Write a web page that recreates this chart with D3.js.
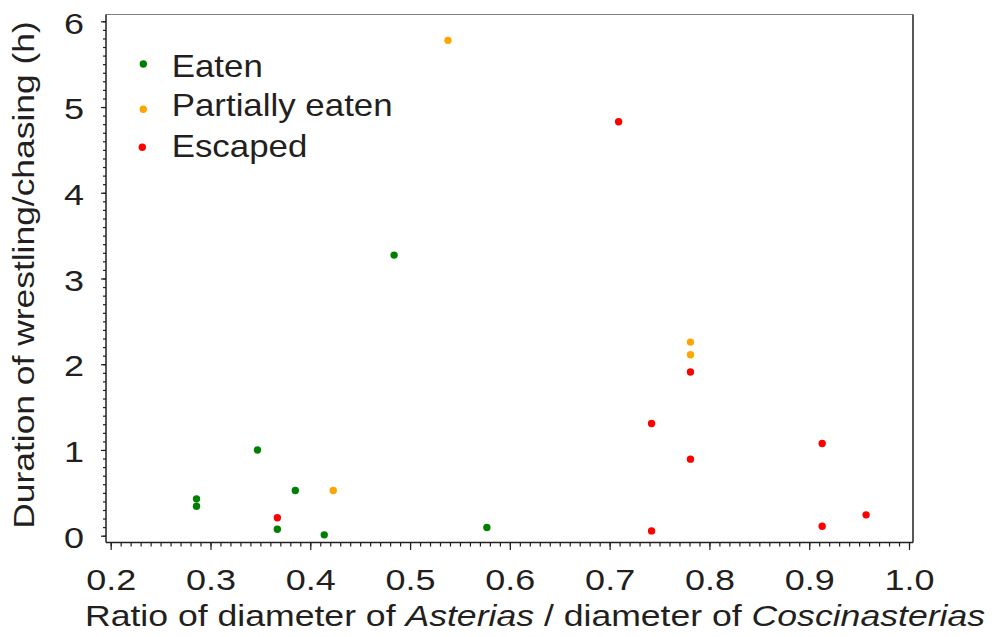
<!DOCTYPE html>
<html><head><meta charset="utf-8">
<script src="https://cdn.jsdelivr.net/npm/d3@7"></script>
<style>
html,body{margin:0;padding:0;background:#fff;}
text{font-family:"Liberation Sans",Arial,sans-serif;fill:#231f20;}
</style></head>
<body>
<svg id="chart" width="992" height="637"></svg>
<script>
// Data (ratio, duration in h)
const eatenX = [0.286, 0.286, 0.347, 0.367, 0.385, 0.414, 0.484, 0.577];
const eatenY = [0.43, 0.344, 1.0, 0.076, 0.527, 0.01, 3.273, 0.096];
const partialX = [0.423, 0.538, 0.781, 0.781];
const partialY = [0.527, 5.778, 2.258, 2.11];
const escapedX = [0.367, 0.709, 0.742, 0.742, 0.781, 0.781, 0.913, 0.913, 0.957];
const escapedY = [0.21, 4.828, 1.309, 0.056, 1.91, 0.893, 1.076, 0.111, 0.243];
const seriesNames = ["Eaten", "Partially eaten", "Escaped"];
const seriesColors = ["#008000", "#ffa500", "#ff0000"];
const xTickLabels = ["0.2","0.3","0.4","0.5","0.6","0.7","0.8","0.9","1.0"];
const yTickLabels = ["0","1","2","3","4","5","6"];

const series = [
  {name: seriesNames[0], color: seriesColors[0], xs: eatenX, ys: eatenY},
  {name: seriesNames[1], color: seriesColors[1], xs: partialX, ys: partialY},
  {name: seriesNames[2], color: seriesColors[2], xs: escapedX, ys: escapedY}
];

const svg = d3.select("#chart");
const box = {left: 106, right: 913, top: 14.5, bottom: 542.5};
const x = d3.scaleLinear().domain([0.2, 1.0]).range([110.7, 909]);
const y = d3.scaleLinear().domain([0, 6]).range([535.7, 21.3]);
const ink = "#231f20";

// horizontal stretch of text around its anchor x
function stretch(sel, k) {
  sel.each(function() {
    const t = d3.select(this);
    const ax = +(t.attr("x") || 0);
    const prev = t.attr("transform") || "";
    t.attr("transform", `${prev} translate(${ax * (1 - k)},0) scale(${k},1)`);
  });
}

// frame
svg.append("line").attr("x1", box.left).attr("x2", box.right).attr("y1", box.top).attr("y2", box.top)
  .attr("stroke", "#808080").attr("stroke-width", 1.2);
svg.append("line").attr("x1", box.right).attr("x2", box.right).attr("y1", box.top).attr("y2", box.bottom)
  .attr("stroke", ink).attr("stroke-width", 1.5);

// x axis
const xMinor = d3.range(20, 101).map(d => d / 100);
const gxm = svg.append("g").attr("transform", `translate(0,${box.bottom})`)
  .call(d3.axisBottom(x).tickValues(xMinor).tickSize(4).tickFormat(""));
gxm.select(".domain").remove();
const gx = svg.append("g").attr("transform", `translate(0,${box.bottom})`)
  .call(d3.axisBottom(x).tickValues(xTickLabels.map(Number)).tickSize(7.5)
    .tickFormat((d, i) => xTickLabels[i]));
gx.select(".domain").remove();
gx.selectAll("text").attr("font-size", 30).attr("fill", ink).attr("dy", null).attr("y", 47.5)
  .style("font-family", "Liberation Sans, Arial, sans-serif");
stretch(gx.selectAll("text"), 1.2);
svg.append("line").attr("x1", box.left).attr("x2", box.right).attr("y1", box.bottom).attr("y2", box.bottom)
  .attr("stroke", ink).attr("stroke-width", 1.5);

// y axis
const yMinor = d3.range(0, 61).map(d => d / 10);
const gym = svg.append("g").attr("transform", `translate(${box.left},0)`)
  .call(d3.axisLeft(y).tickValues(yMinor).tickSize(3).tickFormat(""));
gym.select(".domain").remove();
const gy = svg.append("g").attr("transform", `translate(${box.left},0)`)
  .call(d3.axisLeft(y).tickValues(yTickLabels.map(Number)).tickSize(5)
    .tickFormat((d, i) => yTickLabels[i]));
gy.select(".domain").remove();
gy.selectAll("text").attr("font-size", 30).attr("fill", ink).attr("x", -22).attr("dy", "0.39em")
  .style("font-family", "Liberation Sans, Arial, sans-serif");
stretch(gy.selectAll("text"), 1.2);
svg.selectAll("g .tick line").attr("stroke", ink).attr("stroke-width", 1.2);
svg.append("line").attr("x1", box.left).attr("x2", box.left).attr("y1", box.top).attr("y2", box.bottom)
  .attr("stroke", ink).attr("stroke-width", 1.5);

// points
series.forEach(s => {
  svg.append("g").selectAll("circle")
    .data(s.xs.map((v, i) => [v, s.ys[i]]))
    .join("circle")
    .attr("cx", d => x(d[0])).attr("cy", d => y(d[1]))
    .attr("r", 3.7).attr("fill", s.color);
});

// legend
const legDotX = [143.3, 143.3, 142.3];
const legDotY = [64, 109.3, 147.3];
const legBase = [77.3, 116, 156.7];
const leg = svg.append("g");
series.forEach((s, i) => {
  leg.append("circle").attr("cx", legDotX[i]).attr("cy", legDotY[i]).attr("r", 3.7).attr("fill", s.color);
  leg.append("text").attr("x", 171.7).attr("y", legBase[i])
    .attr("font-size", 31).text(s.name);
});
stretch(leg.selectAll("text"), 1.125);

// axis titles
const yt = svg.append("text").attr("transform", "translate(34,275) rotate(-90)")
  .attr("text-anchor", "middle").attr("font-size", 30)
  .text("Duration of wrestling/chasing (h)");
stretch(yt, 1.18);
const xt = svg.append("text").attr("x", 535).attr("y", 626.5).attr("text-anchor", "middle").attr("font-size", 30);
xt.append("tspan").text("Ratio of diameter of ");
xt.append("tspan").attr("font-style", "italic").text("Asterias");
xt.append("tspan").text(" / diameter of ");
xt.append("tspan").attr("font-style", "italic").text("Coscinasterias");
stretch(xt, 1.187);
</script>
</body></html>
